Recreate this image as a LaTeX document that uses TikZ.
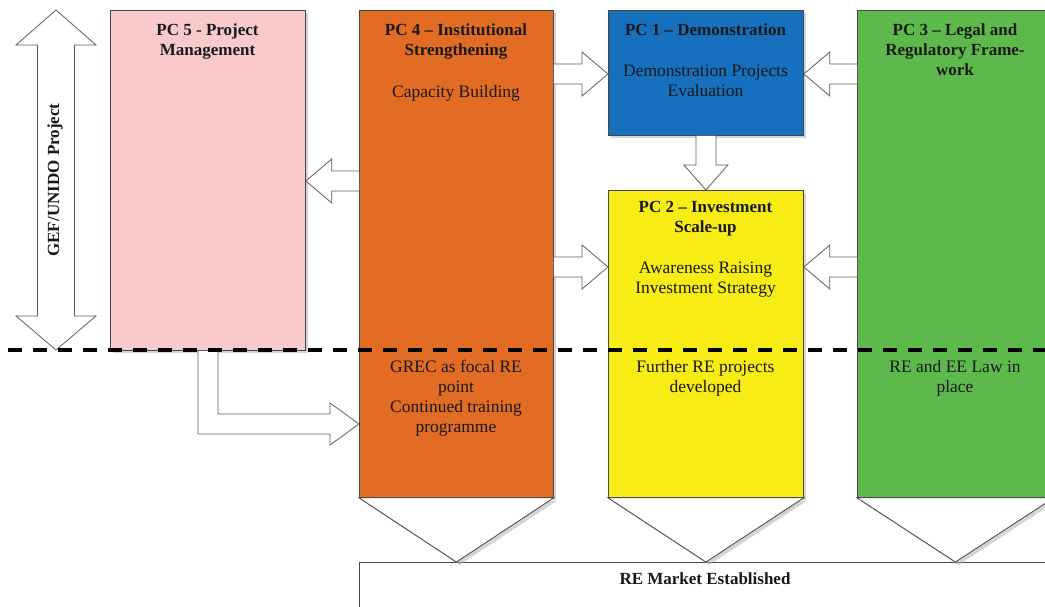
\documentclass[tikz,border=0pt]{standalone}
\usepackage{fontspec}
\setmainfont{Liberation Serif}
\usetikzlibrary{calc,shadows}
\definecolor{pcpink}{RGB}{249,202,204}
\definecolor{pcorange}{RGB}{227,108,37}
\definecolor{pcblue}{RGB}{22,112,190}
\definecolor{pcyellow}{RGB}{247,236,20}
\definecolor{pcgreen}{RGB}{93,185,76}
\definecolor{edgegray}{RGB}{70,70,70}
\definecolor{arrowgray}{RGB}{95,95,95}
\newcommand{\hbarrow}[2]{%
  \draw[barrow] let \p1=(#1), \p2=(#2), \n1={sign(\x2-\x1)} in
    (\x1,\y1+10pt) -- ({\x2-\n1*26pt},\y1+10pt) -- ({\x2-\n1*26pt},\y1+22pt)
    -- (\x2,\y1) -- ({\x2-\n1*26pt},\y1-22pt) -- ({\x2-\n1*26pt},\y1-10pt)
    -- (\x1,\y1-10pt);}
\newcommand{\vbarrow}[2]{%
  \draw[barrow] let \p1=(#1), \p2=(#2), \n1={sign(\y2-\y1)} in
    (\x1+10pt,\y1) -- (\x1+10pt,{\y2-\n1*25pt}) -- (\x1+22pt,{\y2-\n1*25pt})
    -- (\x1,\y2) -- (\x1-22pt,{\y2-\n1*25pt}) -- (\x1-10pt,{\y2-\n1*25pt})
    -- (\x1-10pt,\y1);}
\begin{document}
\begin{tikzpicture}[x=1pt,y=-1pt,
  box/.style={draw=edgegray, line width=0.8pt, inner sep=0pt, anchor=north west,
    drop shadow={shadow xshift=3pt, shadow yshift=-3pt, fill=black!30, opacity=0.55}},
  chev/.style={draw=edgegray, fill=white, line width=0.8pt, line join=miter,
    drop shadow={shadow xshift=3pt, shadow yshift=-3pt, fill=black!30, opacity=0.55}},
  barrow/.style={draw=arrowgray, fill=white, line width=0.8pt, line join=miter},
  ttl/.style={font=\fontsize{17}{20}\selectfont\bfseries, align=center, anchor=base,
    inner sep=0pt, text=black!90},
  txt/.style={font=\fontsize{17.5}{20}\selectfont, align=center, anchor=base,
    inner sep=0pt, text=black!90},
  dline/.style={line width=3.5pt, dash pattern=on 14pt off 11pt, black}]
\useasboundingbox (0,0) rectangle (1045,606);
\fill[white] (0,0) rectangle (1045,606);
\clip (0,0) rectangle (1045,606);

% double arrow GEF/UNIDO
\draw[barrow] (56,10) -- (96,45) -- (74.5,45) -- (74.5,316) -- (96,316) -- (56,350)
  -- (16,316) -- (37.5,316) -- (37.5,45) -- (16,45) -- cycle;
\node[ttl, anchor=center, rotate=90] (gef) at (55,180) {GEF/UNIDO Project};

% boxes
\node[box, fill=pcpink, minimum width=195pt, minimum height=340pt] (pc5) at (110,10) {};
\node[box, fill=pcorange, minimum width=194pt, minimum height=487pt] (pc4) at (359,10) {};
\node[box, fill=pcblue, minimum width=195pt, minimum height=125pt] (pc1) at (608,10) {};
\node[box, fill=pcyellow, minimum width=195pt, minimum height=307pt] (pc2) at (608,190) {};
\node[box, fill=pcgreen, minimum width=196pt, minimum height=487pt] (pc3) at (857,10) {};
\node[box, fill=white, minimum width=694pt, minimum height=60pt] (market) at (359,562) {};

% block arrows
\hbarrow{$(pc4.north east)+(0,64)$}{$(pc1.north west)+(0,64)$}
\hbarrow{$(pc3.north west)+(0,64)$}{$(pc1.north east)+(0,64)$}
\hbarrow{$(pc4.north east)+(0,257)$}{$(pc2.north west)+(0,77)$}
\hbarrow{$(pc3.north west)+(0,257)$}{$(pc2.north east)+(0,77)$}
\hbarrow{$(pc4.north west)+(0,171)$}{$(pc5.north east)+(0,171)$}
\vbarrow{pc1.south}{pc2.north}
\draw[barrow] let \p1=(pc5.south), \p2=($(pc4.north west)+(0,414)$) in
  (\x1-10pt,\y1) -- (\x1-10pt,\y2-10pt) -- (\x2-29pt,\y2-10pt) -- (\x2-29pt,\y2-21pt)
  -- (\x2,\y2) -- (\x2-29pt,\y2+21pt) -- (\x2-29pt,\y2+10pt) -- (\x1+10pt,\y2+10pt)
  -- (\x1+10pt,\y1);

% chevrons
\draw[chev] (pc4.south west) -- (pc4.south east) -- (pc4.south |- market.north) -- cycle;
\draw[chev] (pc2.south west) -- (pc2.south east) -- (pc2.south |- market.north) -- cycle;
\draw[chev] (pc3.south west) -- (pc3.south east) -- (pc3.south |- market.north) -- cycle;

% texts (anchor = baseline of the last line)
\node[ttl] (t5) at (207.5,55) {PC 5 - Project\\Management};
\node[ttl] (t4) at (456,55) {PC 4 -- Institutional\\Strengthening};
\node[txt] (b4) at (456,97) {Capacity Building};
\node[ttl] (t1) at (705.5,35) {PC 1 -- Demonstration};
\node[txt] (b1) at (705.5,96) {Demonstration Projects\\Evaluation};
\node[ttl] (t3) at (955,75) {PC 3 -- Legal and\\Regulatory Frame-\\work};
\node[ttl] (t2) at (705.5,232) {PC 2 -- Investment\\Scale-up};
\node[txt] (b2) at (705.5,293) {Awareness Raising\\Investment Strategy};
\node[txt] (l4) at (456,432) {GREC as focal RE\\point\\Continued training\\programme};
\node[txt] (l2) at (705.5,392) {Further RE projects\\developed};
\node[txt] (l3) at (955,392) {RE and EE Law in\\place};
\node[ttl] (tm) at (705,584) {RE Market Established};

% dashed boundary
\coordinate (dl) at (8,350);
\coordinate (dr) at (1045,350);
\draw[dline] (dl) -- (dr);
\end{tikzpicture}
\end{document}
